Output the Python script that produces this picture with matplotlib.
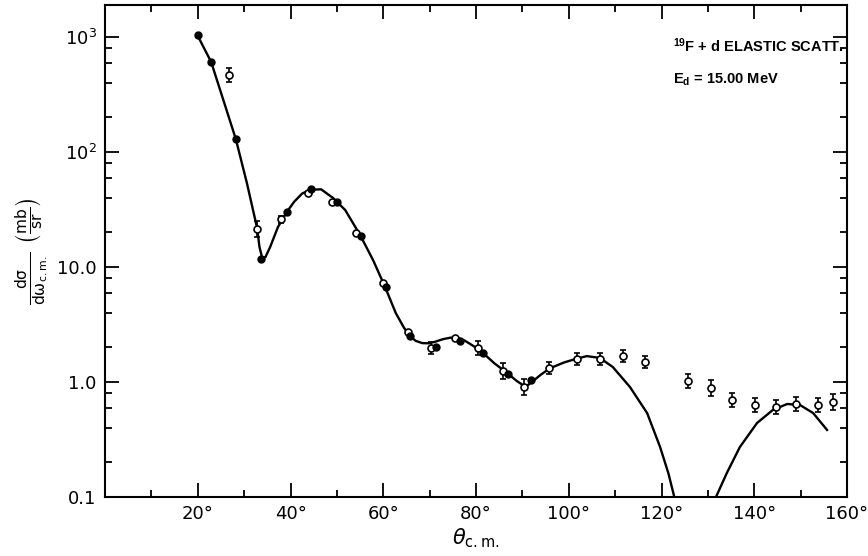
import numpy as np
import matplotlib
matplotlib.use("Agg")
import matplotlib.pyplot as plt
from matplotlib.ticker import FixedLocator, NullFormatter
from matplotlib import font_manager

# ---- data ----
# smooth theoretical curve, left part (deg, mb/sr)
curve1_theta = [19.8, 22.9, 28.2, 30.6, 32.8, 33.3, 33.9, 34.6, 35.6, 37.3, 39.2, 40.8, 42.5, 44.2,
                46.6, 49.2, 51.8, 55.0, 57.8, 60.4, 62.7, 64.5, 65.8, 67.0, 68.4, 69.8, 71.2,
                72.9, 74.5, 76.0, 77.5, 79.5, 81.5, 84.0, 86.7, 88.8, 90.3, 91.2, 92.3, 94.0, 96.0,
                99.0, 101.8, 103.9, 106.7, 109.5, 113.2, 116.9, 119.7, 121.5, 122.9]
curve1_val = [1062, 606, 130, 53.7, 21.8, 15.0, 12.0, 12.2, 14.9, 22.3, 30.1, 37.0, 43.5, 47.0,
              47.4, 39.8, 31.3, 19.0, 11.5, 6.7, 3.98, 2.95, 2.50, 2.28, 2.18, 2.17, 2.24,
              2.36, 2.43, 2.42, 2.30, 2.05, 1.79, 1.45, 1.20, 1.02, 0.93, 0.94, 1.02, 1.16, 1.32,
              1.48, 1.60, 1.68, 1.62, 1.35, 0.905, 0.537, 0.272, 0.16, 0.095]
# smooth theoretical curve, right lobe
curve2_theta = [131.5, 134.1, 136.9, 140.6, 144.0, 147.1, 149.9, 152.7, 155.7]
curve2_val = [0.095, 0.162, 0.272, 0.44, 0.571, 0.644, 0.63, 0.537, 0.383]

# filled points
filled_theta = [20.05, 22.9, 28.2, 33.6, 39.2, 44.4, 50.0, 55.2, 60.6, 65.8, 71.4,
                76.5, 81.5, 86.9, 91.9]
filled_val = [1040, 606, 130, 11.7, 30.1, 47.6, 36.7, 18.6, 6.7, 2.51, 2.01,
              2.27, 1.79, 1.17, 1.04]

# open points with error bars (error = half length in log10 units)
open_theta = [26.7, 32.8, 38.0, 43.8, 49.0, 54.1, 59.9, 65.3, 70.3, 75.5, 80.4, 85.8,
              90.4, 95.7, 101.8, 106.7, 111.7, 116.4, 125.7, 130.7, 135.2, 140.2,
              144.7, 149.0, 153.7, 157.0]
open_val = [468, 21.4, 26.0, 44.0, 36.7, 19.8, 7.26, 2.72, 1.98, 2.41, 1.98, 1.25,
            0.905, 1.32, 1.58, 1.58, 1.68, 1.49, 1.02, 0.89, 0.70, 0.63,
            0.61, 0.64, 0.63, 0.67]
open_err_log = [0.06, 0.07, 0.03, 0.0, 0.0, 0.0, 0.0, 0.0, 0.05, 0.0, 0.06, 0.07,
                0.07, 0.05, 0.05, 0.05, 0.05, 0.05, 0.06, 0.07, 0.06, 0.06,
                0.06, 0.06, 0.06, 0.07]

x_major = [20, 40, 60, 80, 100, 120, 140, 160]
x_major_labels = ["20°", "40°", "60°", "80°", "100°", "120°", "140°", "160°"]
x_minor = [10, 30, 50, 70, 90, 110, 130, 150]
y_major = [0.1, 1.0, 10.0, 100.0, 1000.0]
y_major_labels = ["0.1", "1.0", "10.0", r"$\mathregular{10^2}$", r"$\mathregular{10^3}$"]

# ---- figure ----
plt.rcParams['font.family'] = ['DejaVu Sans']
fig = plt.figure(figsize=(8.68, 5.56), dpi=100)
ax = fig.add_axes([105/868, 59/556, (847-105)/868, (551-59)/556])
ax.set_yscale('log')
ax.set_xlim(0, 160)
ax.set_ylim(0.1, 1900)

ax.plot(curve1_theta, curve1_val, color='black', lw=1.7, solid_joinstyle='round', zorder=2)
ax.plot(curve2_theta, curve2_val, color='black', lw=1.7, solid_joinstyle='round', zorder=2)

ov = np.array(open_val)
oe = np.array(open_err_log)
yerr = np.vstack([ov - ov * 10**(-oe), ov * 10**oe - ov])
ax.errorbar(open_theta, open_val, yerr=yerr, fmt='o', mfc='white', mec='black', mew=1.2,
            ms=5, ecolor='black', elinewidth=1.2, capsize=2.5, capthick=1.2, zorder=3)
ax.plot(filled_theta, filled_val, 'o', color='black', ms=5, zorder=4)

# ticks
ax.xaxis.set_major_locator(FixedLocator(x_major))
ax.set_xticklabels(x_major_labels)
ax.xaxis.set_minor_locator(FixedLocator(x_minor))
ax.xaxis.set_minor_formatter(NullFormatter())
ax.yaxis.set_major_locator(FixedLocator(y_major))
ax.set_yticklabels(y_major_labels)
ymin = []
for d in [0.1, 1, 10, 100, 1000]:
    for m in [2, 4, 6, 8]:
        if d * m < 1900:
            ymin.append(d * m)
ax.yaxis.set_minor_locator(FixedLocator(ymin))
ax.yaxis.set_minor_formatter(NullFormatter())
ax.tick_params(which='both', direction='in', top=True, right=True, width=1.3)
ax.tick_params(which='major', length=10, labelsize=13, pad=6)
ax.tick_params(which='minor', length=5)
for s in ax.spines.values():
    s.set_linewidth(1.5)

ax.set_xlabel(r'$\theta_{\mathregular{c.m.}}$', fontsize=15, labelpad=2)
ax.set_ylabel(r'$\mathregular{\frac{d\sigma}{d\omega_{c.m.}}\ \left(\frac{mb}{sr}\right)}$',
              fontsize=16, labelpad=4)

names = {f.name for f in font_manager.fontManager.ttflist}
if 'Liberation Sans Narrow' in names:
    ann_family, ann_size = ['Liberation Sans Narrow', 'DejaVu Sans'], 12.5
else:
    ann_family, ann_size = ['Liberation Sans', 'DejaVu Sans'], 10.5

ax.text(0.765, 0.918, r'$\mathregular{^{19}}$F + d ELASTIC SCATT.', transform=ax.transAxes,
        fontsize=ann_size, fontweight='bold', family=ann_family,
        va='center', ha='left')
ax.text(0.765, 0.847, r'E$\mathregular{_d}$ = 15.00 MeV', transform=ax.transAxes,
        fontsize=ann_size, fontweight='bold', family=ann_family,
        va='center', ha='left')

fig.savefig('out.png', dpi=100)
